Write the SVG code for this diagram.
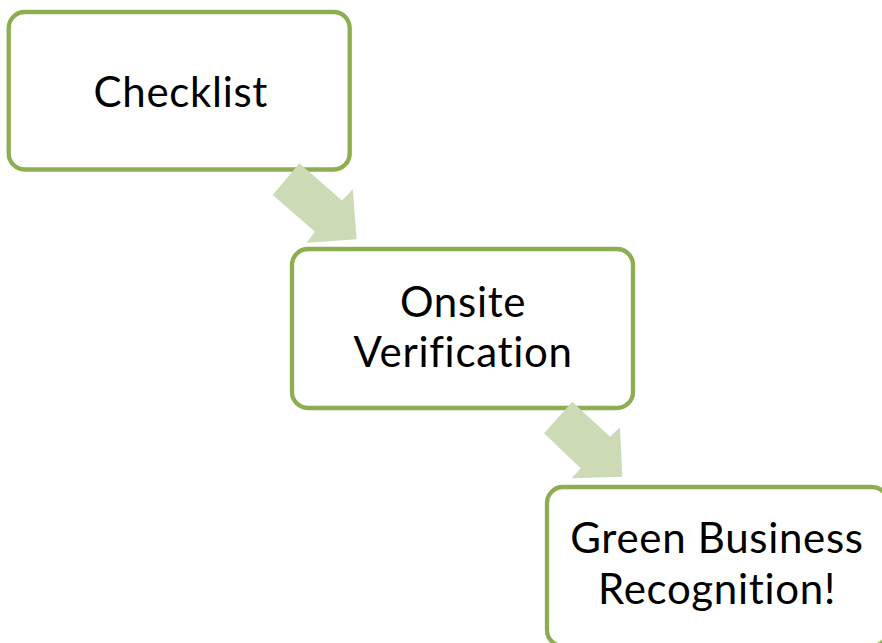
<svg xmlns="http://www.w3.org/2000/svg" width="882" height="643" viewBox="0 0 882 643">
<style>
.box{fill:#ffffff;stroke:#8eac50;stroke-width:4.3}
.arrow{fill:#cddab6;stroke:none}
.lbl{font-family:Lato,"Liberation Sans",sans-serif;font-size:42px;letter-spacing:0.7px;font-variant-ligatures:none;fill:#000000;text-anchor:middle}
</style>
<rect width="882" height="643" fill="#ffffff"/>
<g id="node-checklist">
<rect class="box" x="8.7" y="12" width="341" height="157.5" rx="16" ry="16"/>
<text class="lbl" x="180.8" y="106.5">Checklist</text>
</g>
<g id="node-onsite">
<rect class="box" x="292" y="249" width="341" height="159" rx="16" ry="16"/>
<text class="lbl" x="463.1" y="316.5">Onsite</text>
<text class="lbl" x="463.1" y="366.5">Verification</text>
</g>
<g id="node-green">
<rect class="box" x="547" y="487" width="341" height="159" rx="16" ry="16"/>
<text class="lbl" x="717" y="553">Green Business</text>
<text class="lbl" x="717" y="603.5">Recognition!</text>
</g>
<g id="connectors">
<polygon class="arrow" points="299.3,163.3 272.7,195 315,231.7 306.7,242.7 356.7,239.3 352.7,189.3 342,200.5"/>
<polygon class="arrow" points="572.3,401.7 544,433.3 580.7,468.3 571.7,478.3 622.3,476.7 620,427.3 610,436.7"/>
</g>
</svg>
